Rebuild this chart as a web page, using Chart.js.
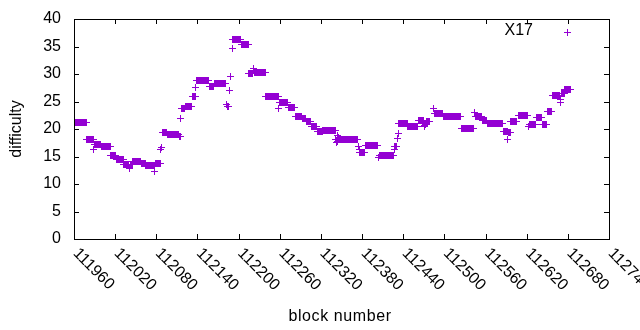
<!DOCTYPE html>
<html>
<head>
<meta charset="utf-8">
<script src="https://cdn.jsdelivr.net/npm/chart.js@4/dist/chart.umd.min.js"></script>
<style>
  html, body { margin: 0; padding: 0; background: #fff; }
  #wrap { width: 640px; height: 330px; }
</style>
</head>
<body>
<div id="wrap"><canvas id="myChart" width="640" height="330"></canvas></div>
<script>
// difficulty: it holds one level for a range of blocks
// (first block, last block, level)
const runFirst = [111960, 111978, 111988, 111989, 111999, 112013, 112021, 112032, 112040, 112041,
    112045, 112057, 112064, 112077, 112078, 112086, 112087, 112088, 112095, 112113,
    112115, 112116, 112122, 112132, 112137, 112138, 112157, 112164, 112181, 112183,
    112186, 112188, 112190, 112191, 112203, 112214, 112221, 112222, 112239, 112258,
    112259, 112272, 112282, 112292, 112298, 112305, 112314, 112322, 112341, 112342,
    112343, 112344, 112345, 112346, 112347, 112374, 112375, 112376, 112384, 112403,
    112404, 112426, 112427, 112431, 112432, 112433, 112446, 112461, 112470, 112471,
    112472, 112473, 112484, 112485, 112498, 112524, 112543, 112544, 112555, 112562,
    112585, 112592, 112593, 112596, 112607, 112622, 112623, 112633, 112642, 112649,
    112657, 112668, 112669, 112670, 112675];
const runLast = [111977, 111987, 111988, 111998, 112012, 112020, 112031, 112039, 112040, 112044,
    112056, 112063, 112076, 112077, 112085, 112086, 112087, 112094, 112112, 112114,
    112115, 112121, 112131, 112136, 112137, 112156, 112163, 112180, 112182, 112185,
    112186, 112188, 112190, 112202, 112213, 112220, 112221, 112238, 112257, 112258,
    112271, 112281, 112291, 112297, 112304, 112313, 112321, 112340, 112341, 112342,
    112343, 112344, 112345, 112346, 112373, 112374, 112375, 112383, 112402, 112403,
    112425, 112426, 112430, 112431, 112432, 112445, 112460, 112469, 112470, 112471,
    112472, 112478, 112484, 112497, 112523, 112542, 112543, 112554, 112561, 112584,
    112591, 112592, 112595, 112605, 112621, 112622, 112632, 112641, 112648, 112656,
    112667, 112668, 112669, 112674, 112683];
const runLevel = [21.2, 18.2, 16.4, 17.2, 17.0, 15.3, 14.6, 13.6, 12.9, 13.6,
    14.2, 13.8, 13.45, 12.4, 13.9, 16.3, 16.8, 19.5, 19.15, 18.8,
    22.0, 23.8, 24.2, 26.0, 27.6, 28.85, 27.9, 28.4, 24.6, 24.1,
    27.0, 29.7, 34.7, 36.35, 35.45, 30.1, 31.1, 30.35, 26.0, 23.8,
    24.9, 24.0, 22.35, 22.0, 21.4, 20.6, 19.7, 19.8, 18.1, 17.6,
    17.9, 19.0, 18.6, 18.4, 18.2, 17.0, 16.4, 15.8, 17.15, 15.0,
    15.3, 16.4, 16.95, 18.4, 19.3, 21.1, 20.6, 21.6, 20.8, 20.5,
    20.9, 21.4, 23.8, 22.85, 22.4, 20.2, 23.1, 22.3, 21.7, 21.1,
    19.6, 18.2, 19.4, 21.4, 22.5, 20.5, 20.9, 22.1, 20.9, 23.2,
    26.2, 25.0, 25.5, 26.5, 27.3];

const seriesName = "X17";
const xTitle = "block number";
const yTitle = "difficulty";

// one point per block
let points = [];
runFirst.forEach(function(first, i) {
    for (let b = first; b <= runLast[i]; b++) {
        points.push({ x: b, y: runLevel[i] });
    }
});

const violet = "#9400d3";
const font = "'Liberation Sans', Arial, sans-serif";

// snap the crosses to pixel centres so they come out crisp like gnuplot's
const crispPoints = {
    id: "crispPoints",
    afterDatasetsUpdate(chart) {
        chart.getDatasetMeta(0).data.forEach(function(p) {
            p.x = Math.round(p.x) + 0.5;
            p.y = Math.round(p.y) + 0.5;
        });
    }
};

// gnuplot look: boxed plot, inward ticks, slanted x labels, key inside
const gnuplotFrame = {
    id: "gnuplotFrame",
    afterDraw(chart) {
        const ctx = chart.ctx;
        const area = chart.chartArea;
        const xs = chart.scales.x;
        const ys = chart.scales.y;
        const tick = 5;
        ctx.save();
        ctx.strokeStyle = "#000";
        ctx.lineWidth = 1;
        ctx.beginPath();
        ys.ticks.forEach(function(t) {
            const y = Math.round(ys.getPixelForValue(t.value)) + 0.5;
            ctx.moveTo(area.left, y);
            ctx.lineTo(area.left + tick, y);
            ctx.moveTo(area.right, y);
            ctx.lineTo(area.right - tick, y);
        });
        xs.ticks.forEach(function(t) {
            const x = Math.round(xs.getPixelForValue(t.value)) + 0.5;
            ctx.moveTo(x, area.bottom);
            ctx.lineTo(x, area.bottom - tick);
            ctx.moveTo(x, area.top);
            ctx.lineTo(x, area.top + tick);
        });
        ctx.stroke();
        ctx.strokeRect(area.left + 0.5, area.top + 0.5, area.right - area.left, area.bottom - area.top);

        // x tick labels, slanted down to the right
        ctx.fillStyle = "#000";
        ctx.font = "16px " + font;
        ctx.textAlign = "left";
        ctx.textBaseline = "middle";
        xs.ticks.forEach(function(t) {
            const x = xs.getPixelForValue(t.value);
            ctx.save();
            ctx.translate(x + 1.5, area.bottom + 12);
            ctx.rotate(Math.PI / 4);
            ctx.fillText(String(t.value), 0, 0);
            ctx.restore();
        });

        // x title
        ctx.textAlign = "center";
        ctx.textBaseline = "alphabetic";
        ctx.letterSpacing = "0.6px";
        ctx.fillText(xTitle, 340, 321);
        ctx.letterSpacing = "0px";

        // key
        ctx.textAlign = "right";
        ctx.textBaseline = "middle";
        ctx.fillText(chart.data.datasets[0].label, 533, 31);
        ctx.strokeStyle = violet;
        ctx.beginPath();
        ctx.moveTo(564, 32.5);
        ctx.lineTo(571, 32.5);
        ctx.moveTo(567.5, 29);
        ctx.lineTo(567.5, 36);
        ctx.stroke();
        ctx.restore();
    }
};

const config = {
    type: "scatter",
    data: {
        datasets: [{
            label: seriesName,
            data: points,
            pointStyle: "cross",
            pointRadius: 3.5,
            pointBorderWidth: 1,
            borderColor: violet,
            backgroundColor: violet
        }]
    },
    options: {
        responsive: false,
        animation: false,
        layout: {
            padding: { top: 19, right: 31, left: 0, bottom: 0 }
        },
        plugins: {
            legend: { display: false },
            tooltip: { enabled: false }
        },
        scales: {
            x: {
                type: "linear",
                min: 111960,
                max: 112740,
                ticks: { stepSize: 60, display: false },
                grid: { display: false },
                border: { display: false },
                afterFit: function(scale) {
                    scale.height = 91;
                    scale.paddingLeft = 0;
                    scale.paddingRight = 0;
                }
            },
            y: {
                min: 0,
                max: 40,
                ticks: {
                    stepSize: 5,
                    color: "#000",
                    padding: 13,
                    font: { family: font, size: 16 }
                },
                grid: { display: false, drawTicks: false },
                border: { display: false },
                title: {
                    display: true,
                    text: yTitle,
                    color: "#000",
                    font: { family: font, size: 16 },
                    padding: { top: 7, bottom: 0 }
                },
                afterFit: function(scale) {
                    scale.width = 74;
                    scale.paddingTop = 0;
                    scale.paddingBottom = 0;
                }
            }
        }
    },
    plugins: [crispPoints, gnuplotFrame]
};

const myChart = new Chart(document.getElementById("myChart"), config);
</script>
</body>
</html>
